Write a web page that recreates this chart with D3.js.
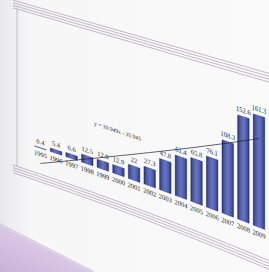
<!DOCTYPE html>
<html>
<head>
<meta charset="utf-8">
<script src="https://cdn.jsdelivr.net/npm/d3@7"></script>
<style>
  html, body { margin: 0; padding: 0; background: #f7f7f8; }
  svg { display: block; }
  text { font-family: "Liberation Serif", "DejaVu Serif", serif; fill: #1f1f2a; }
</style>
</head>
<body>
<svg id="chart" width="269" height="272"></svg>
<script>
const years = ["1995", "1996", "1997", "1998", "1999", "2000", "2001", "2002",
               "2003", "2004", "2005", "2006", "2007", "2008", "2009"];
const values = [0.4, 5.4, 6.6, 12.5, 12.9, 12.9, 22, 27.3, 47.8, 61.4, 65.8, 76.1, 108.3, 152.6, 161.3];
const trendSlope = 10.949;
const trendIntercept = -35.945;
const trendLabel = "y = 10.949x - 35.945";

const svg = d3.select("#chart");

// the printed page is photographed at an angle: draw flat, then bend every point
const H = 160; // flat frame height
function yTop(u) { return 9 + 0.29 * (u - 17); }
function yBot(u) { return 165 + 0.33 * (u - 13) + 0.00017 * (u - 13) * (u - 13); }
function warp(u, v) {
  const t0 = yTop(u), t1 = yBot(u);
  return [u, t0 + (v / H) * (t1 - t0)];
}
// local affine matrix, so text leans like the page
function place(u, v) {
  const e = 0.5;
  const p = warp(u, v);
  const a = warp(u - e, v), b = warp(u + e, v);
  const c = warp(u, v - e), d = warp(u, v + e);
  const m = [(b[0] - a[0]) / (2 * e), (b[1] - a[1]) / (2 * e),
             (d[0] - c[0]) / (2 * e), (d[1] - c[1]) / (2 * e)];
  return "matrix(" + m.join(",") + "," + p[0] + "," + p[1] + ")";
}
function warpedLine(u0, v0, u1, v1, n) {
  const pts = d3.range(n + 1).map(i => {
    const k = i / n;
    return warp(u0 + (u1 - u0) * k, v0 + (v1 - v0) * k);
  });
  return d3.line()(pts);
}

// Background: page + lavender corner at bottom left
const defs = svg.append("defs");
const shade = defs.append("linearGradient").attr("id", "shade")
  .attr("x1", 0).attr("x2", 1).attr("y1", 0).attr("y2", 0);
shade.append("stop").attr("offset", 0).attr("stop-color", "#e9e9ec");
shade.append("stop").attr("offset", 0.12).attr("stop-color", "#f7f7f8");
shade.append("stop").attr("offset", 1).attr("stop-color", "#fafafa");
svg.append("rect").attr("width", 269).attr("height", 272).attr("fill", "url(#shade)");

const lav = defs.append("linearGradient").attr("id", "lav")
  .attr("x1", 0).attr("x2", 1).attr("y1", 1).attr("y2", 0);
lav.append("stop").attr("offset", 0).attr("stop-color", "#c9b2d8");
lav.append("stop").attr("offset", 1).attr("stop-color", "#eadff0");
svg.append("path").attr("d", "M0,225 L92,272 L0,272 Z").attr("fill", "url(#lav)");
svg.append("path").attr("d", "M0,224 L94,272").attr("stroke", "#d4d0da").attr("stroke-width", 1.5);

const barGrad = defs.append("linearGradient").attr("id", "bar")
  .attr("x1", 0).attr("x2", 1).attr("y1", 0).attr("y2", 0);
[[0, "#28307a"], [0.2, "#4b59a8"], [0.5, "#6775c0"], [0.8, "#4b59a8"], [1, "#28307a"]]
  .forEach(s => barGrad.append("stop").attr("offset", s[0]).attr("stop-color", s[1]));

// Scales (flat space)
const x = d3.scaleBand().domain(years).range([32.6, 266.8]).paddingInner(0.26).paddingOuter(0.13);
const y = d3.scaleLinear().domain([0, 180]).range([133.6, 21.3]);
const cx = d => x(d) + x.bandwidth() / 2;

// Frame: four thin lines top and bottom, one on the left
const frame = svg.append("g").attr("fill", "none").attr("stroke", "#958ca6").attr("stroke-width", 0.6);
d3.range(4).forEach(k => {
  frame.append("path").attr("d", warpedLine(13, -k * 2.6, 280, -k * 2.6, 30));
  frame.append("path").attr("d", warpedLine(13, H + k * 2.6, 280, H + k * 2.6, 30));
});
frame.append("path").attr("d", warpedLine(17, 0, 17, H, 4)).attr("stroke", "#a09aae");

// Bars
svg.append("g").selectAll("path")
  .data(years)
  .join("path")
  .attr("d", (d, i) => {
    const x0 = x(d), x1 = x(d) + x.bandwidth();
    return d3.line()([warp(x0, y(0)), warp(x1, y(0)), warp(x1, y(values[i])), warp(x0, y(values[i]))]) + "Z";
  })
  .attr("fill", "url(#bar)")
  .attr("stroke", "#232a6c")
  .attr("stroke-width", 0.4);

// Trend line from its formula
const tStart = trendSlope * 1 + trendIntercept;
const tEnd = trendSlope * years.length + trendIntercept;
svg.append("path")
  .attr("d", warpedLine(cx(years[0]), y(tStart), cx(years[years.length - 1]), y(tEnd), 30))
  .attr("fill", "none").attr("stroke", "#1d1d36").attr("stroke-width", 0.7);

svg.append("text")
  .attr("transform", place(cx("2000") - 1, y(65)))
  .attr("text-anchor", "middle")
  .attr("font-size", 5.6)
  .text(trendLabel);

// Value labels
svg.append("g").selectAll("text")
  .data(years)
  .join("text")
  .attr("transform", (d, i) => place(cx(d), y(values[i]) - 3.5))
  .attr("text-anchor", "middle")
  .attr("font-size", 6.5)
  .text((d, i) => values[i]);

// Category labels
svg.append("g").selectAll("text")
  .data(years)
  .join("text")
  .attr("transform", d => place(cx(d), y(0) + 8.5))
  .attr("text-anchor", "middle")
  .attr("font-size", 6.5)
  .text(d => d);
</script>
</body>
</html>
